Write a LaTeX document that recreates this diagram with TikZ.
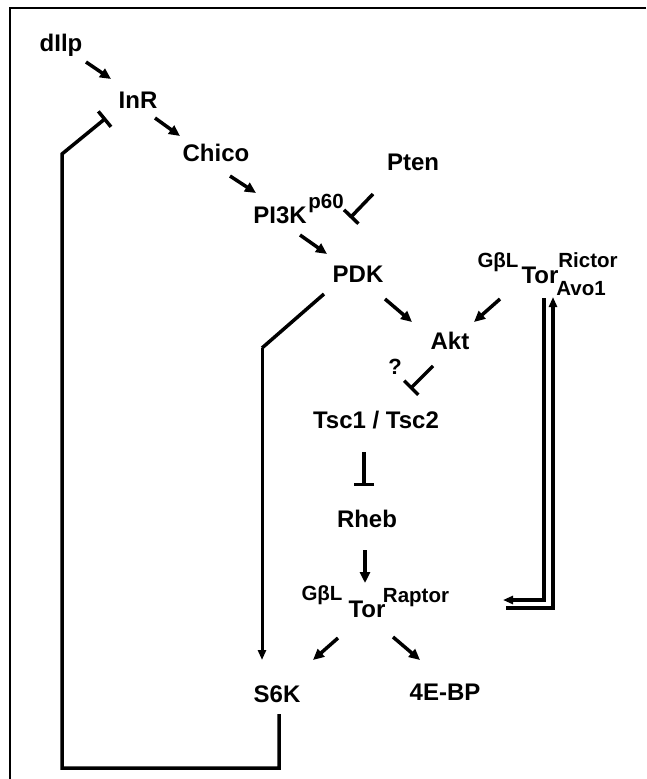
\documentclass[tikz,border=0pt]{standalone}
\usepackage{fontspec}
\setmainfont{Liberation Sans}
\usetikzlibrary{arrows.meta}
\begin{document}
\begin{tikzpicture}[x=1pt,y=-1pt,
  lbl/.style={font=\fontsize{24}{24}\selectfont\bfseries, inner sep=0pt, anchor=base},
  sml/.style={font=\fontsize{20.5}{20.5}\selectfont\bfseries, inner sep=0pt, anchor=base},
  act/.style={line width=3.5pt, -{Triangle[length=11pt,width=10pt]}},
  thinact/.style={line width=3pt, -{Triangle[length=10pt,width=8pt]}},
  inh/.style={line width=3.5pt, -{Bar[width=20pt]}},
  frameline/.style={line width=1.8pt}]
\useasboundingbox (0,0) rectangle (646,779);
% frame
\coordinate (fr1) at (646,8);
\coordinate (fr2) at (10,8);
\coordinate (fr3) at (10,779);
\draw[frameline] (fr1) -- (fr2) -- (fr3);
% labels
\node[lbl] (dllp) at (61,51) {dIlp};
\node[lbl] (InR) at (138,108) {InR};
\node[lbl] (Chico) at (216,161) {Chico};
\node[lbl] (PI3K) at (280,223) {PI3K};
\node[sml] (p60) at (326,208) {p60};
\node[lbl] (Pten) at (413,170) {Pten};
\node[lbl] (PDK) at (358,282) {PDK};
\node[sml] (GbL1) at (498,267) {G\char"03B2 L};
\node[lbl] (Tor1) at (540,283) {Tor};
\node[sml] (Rictor) at (588,267) {Rictor};
\node[sml] (Avo1) at (581,295) {Avo1};
\node[lbl] (Akt) at (450,349) {Akt};
\node[lbl,font=\fontsize{22}{22}\selectfont\bfseries] (q) at (395,374) {?};
\node[lbl] (Tsc) at (376,428) {Tsc1 / Tsc2};
\node[lbl] (Rheb) at (367,527) {Rheb};
\node[sml] (GbL2) at (322,600) {G\char"03B2 L};
\node[lbl] (Tor2) at (367,617) {Tor};
\node[sml] (Raptor) at (416,602) {Raptor};
\node[lbl] (S6K) at (277,702) {S6K};
\node[lbl] (EBP) at (445,700) {4E-BP};
% connector end points
\coordinate (a1s) at (86,62);   \coordinate (a1e) at (111,79);
\coordinate (a2s) at (155,118); \coordinate (a2e) at (180,136);
\coordinate (a3s) at (230,176); \coordinate (a3e) at (256,193);
\coordinate (a4s) at (300,235); \coordinate (a4e) at (327,254);
\coordinate (i1s) at (373,194); \coordinate (i1e) at (350,218);
\coordinate (a5s) at (385,299); \coordinate (a5e) at (412,322);
\coordinate (a6s) at (500,299); \coordinate (a6e) at (474,322);
\coordinate (i2s) at (433,366); \coordinate (i2e) at (410,389);
\coordinate (i3s) at (364,452); \coordinate (i3e) at (364,486);
\coordinate (a7s) at (365,550); \coordinate (a7e) at (365,583);
\coordinate (a8s) at (338,638); \coordinate (a8e) at (313,660);
\coordinate (a9s) at (393,637); \coordinate (a9e) at (420,660);
\coordinate (p1) at (324,294);  \coordinate (p2) at (262,348); \coordinate (p3) at (262,660);
\coordinate (l1) at (279,714);  \coordinate (l2) at (279,768);
\coordinate (l3) at (62,768);   \coordinate (l4) at (62,154); \coordinate (l5) at (106,118);
\coordinate (d1) at (544,298);  \coordinate (d2) at (544,600); \coordinate (d3) at (503,600);
\coordinate (e1) at (506,608);  \coordinate (e2) at (553,608); \coordinate (e3) at (553,297);
% connectors
\draw[act] (a1s) -- (a1e);
\draw[act] (a2s) -- (a2e);
\draw[act] (a3s) -- (a3e);
\draw[act] (a4s) -- (a4e);
\draw[inh] (i1s) -- (i1e);
\draw[act] (a5s) -- (a5e);
\draw[act] (a6s) -- (a6e);
\draw[inh] (i2s) -- (i2e);
\draw[inh] (i3s) -- (i3e);
\draw[act] (a7s) -- (a7e);
\draw[act] (a8s) -- (a8e);
\draw[act] (a9s) -- (a9e);
\draw[line width=3.5pt] (p1) -- (p2);
\draw[thinact] (p2) -- (p3);
\draw[inh] (l1) -- (l2) -- (l3) -- (l4) -- (l5);
\draw[line width=3.5pt, -{Triangle[length=10pt,width=8pt]}] (d1) -- (d2) -- (d3);
\draw[line width=3.5pt, -{Triangle[length=10pt,width=8pt]}] (e1) -- (e2) -- (e3);
\end{tikzpicture}
\end{document}
